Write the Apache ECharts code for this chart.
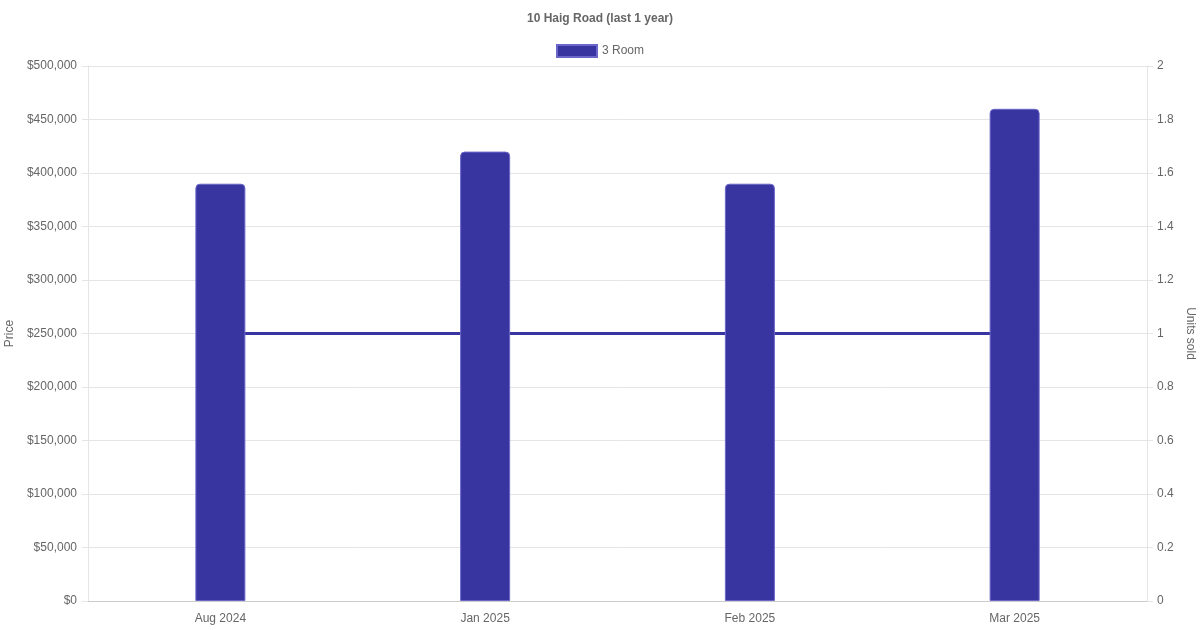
<!DOCTYPE html>
<html>
<head>
<meta charset="utf-8">
<script src="https://cdn.jsdelivr.net/npm/echarts@6/dist/echarts.min.js"></script>
<style>html,body{margin:0;padding:0;background:#fff}#c{width:1200px;height:630px}</style>
</head>
<body>
<div id="c"></div>
<script>
const categories = ['Aug 2024', 'Jan 2025', 'Feb 2025', 'Mar 2025'];
const prices = [390000, 420000, 390000, 460000];
const unitsSold = [1, 1, 1, 1];

const FONT = 'Liberation Sans, Arial, Helvetica, sans-serif';
const BAR = '#3834a0';
const chart = echarts.init(document.getElementById('c'));
chart.setOption({
  animation: false,
  textStyle: { fontFamily: FONT },
  title: {
    text: '10 Haig Road (last 1 year)', left: 'center', top: 8,
    textStyle: { fontSize: 12, fontWeight: 'bold', color: '#666', fontFamily: FONT }
  },
  legend: {
    data: [{ name: '3 Room', icon: 'rect' }], top: 39, left: 'center', itemWidth: 40, itemHeight: 12, itemGap: 10,
    textStyle: { fontSize: 12, color: '#666', fontFamily: FONT }
  },
  grid: { left: 88, right: 53, top: 66, bottom: 29, containLabel: false, outerBoundsMode: 'none' },
  xAxis: {
    type: 'category', data: categories, boundaryGap: true,
    axisLine: { show: true, lineStyle: { color: '#ccc', width: 1 } },
    axisTick: { show: false },
    splitLine: { show: false },
    axisLabel: { color: '#666', fontSize: 12, margin: 12, fontFamily: FONT }
  },
  yAxis: [
    {
      type: 'value', min: 0, max: 500000, interval: 50000, position: 'left',
      name: 'Price', nameLocation: 'middle', nameGap: 70, nameRotate: 90,
      nameTextStyle: { color: '#666', fontSize: 12, fontFamily: FONT },
      axisLine: { show: true, lineStyle: { color: '#e5e5e5' } },
      axisTick: { show: true, length: 6, lineStyle: { color: '#e5e5e5' } },
      splitLine: { show: true, lineStyle: { color: '#e5e5e5' } },
      axisLabel: { color: '#666', fontSize: 12, margin: 11, fontFamily: FONT,
        formatter: v => '$' + v.toLocaleString('en-US') }
    },
    {
      type: 'value', min: 0, max: 2, interval: 0.2, position: 'right',
      name: 'Units sold', nameLocation: 'middle', nameGap: 36, nameRotate: -90,
      nameTextStyle: { color: '#666', fontSize: 12, fontFamily: FONT },
      axisLine: { show: true, lineStyle: { color: '#e5e5e5' } },
      axisTick: { show: true, length: 6, lineStyle: { color: '#e5e5e5' } },
      splitLine: { show: false },
      axisLabel: { color: '#666', fontSize: 12, margin: 10, fontFamily: FONT,
        formatter: v => String(Math.round(v * 10) / 10) }
    }
  ],
  series: [
    {
      name: 'Units sold', type: 'line', yAxisIndex: 1, data: unitsSold, z: 1,
      showSymbol: false, symbol: 'none',
      lineStyle: { color: BAR, width: 3 }, itemStyle: { color: BAR }
    },
    {
      name: '3 Room', type: 'bar', yAxisIndex: 0, data: prices, barWidth: 50, z: 3,
      itemStyle: { color: BAR, borderColor: '#6b67c9', borderWidth: 1, borderRadius: [4, 4, 0, 0] }
    }
  ]
});
</script>
</body>
</html>
